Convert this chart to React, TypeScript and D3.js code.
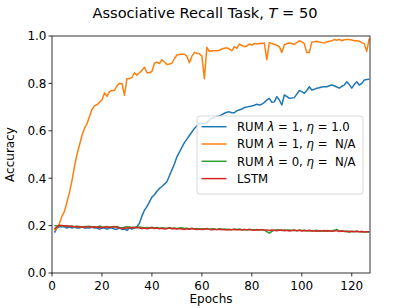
import React from 'react';
import * as d3 from 'd3';

// accuracy per epoch, epochs 1..127
const rumEta1: number[] = [
  0.17, 0.19, 0.195, 0.195, 0.195, 0.19, 0.195, 0.19, 0.195, 0.19,
  0.19, 0.195, 0.19, 0.19, 0.19, 0.195, 0.19, 0.19, 0.185, 0.19,
  0.19, 0.185, 0.19, 0.19, 0.185, 0.185, 0.19, 0.185, 0.185, 0.18,
  0.19, 0.185, 0.19, 0.195, 0.21, 0.24, 0.265, 0.28, 0.30, 0.32,
  0.33, 0.345, 0.357, 0.365, 0.375, 0.385, 0.41, 0.435, 0.46, 0.49,
  0.51, 0.53, 0.55, 0.565, 0.58, 0.595, 0.61, 0.62, 0.63, 0.632,
  0.63, 0.634, 0.645, 0.653, 0.655, 0.66, 0.662, 0.668, 0.674, 0.678,
  0.68, 0.676, 0.676, 0.685, 0.688, 0.692, 0.698, 0.70, 0.703, 0.705,
  0.708, 0.712, 0.709, 0.712, 0.72, 0.73, 0.737, 0.72, 0.722, 0.744,
  0.73, 0.709, 0.751, 0.745, 0.737, 0.738, 0.74, 0.755, 0.77, 0.765,
  0.758, 0.77, 0.786, 0.772, 0.775, 0.78, 0.782, 0.785, 0.786, 0.786,
  0.79, 0.793, 0.79, 0.785, 0.78, 0.788, 0.793, 0.807, 0.795, 0.78,
  0.795, 0.807, 0.793, 0.80, 0.814, 0.816, 0.817,
];

const rumNoEta1: number[] = [
  0.18, 0.19, 0.21, 0.24, 0.26, 0.30, 0.34, 0.39, 0.45, 0.50,
  0.54, 0.58, 0.61, 0.63, 0.66, 0.69, 0.705, 0.71, 0.72, 0.73,
  0.76, 0.745, 0.765, 0.77, 0.77, 0.79, 0.80, 0.80, 0.75, 0.82,
  0.82, 0.825, 0.845, 0.835, 0.845, 0.855, 0.868, 0.845, 0.845, 0.85,
  0.885, 0.89, 0.884, 0.90, 0.89, 0.88, 0.882, 0.885, 0.905, 0.92,
  0.922, 0.923, 0.923, 0.915, 0.887, 0.915, 0.93, 0.927, 0.925, 0.915,
  0.82, 0.952, 0.935, 0.938, 0.938, 0.938, 0.94, 0.945, 0.948, 0.95,
  0.945, 0.938, 0.955, 0.948, 0.966, 0.96, 0.955, 0.958, 0.966, 0.962,
  0.968, 0.966, 0.968, 0.968, 0.97, 0.90, 0.972, 0.968, 0.965, 0.96,
  0.955, 0.93, 0.962, 0.968, 0.97, 0.968, 0.965, 0.972, 0.98, 0.975,
  0.968, 0.93, 0.93, 0.975, 0.976, 0.978, 0.975, 0.973, 0.97, 0.975,
  0.978, 0.98, 0.985, 0.982, 0.986, 0.98, 0.984, 0.985, 0.985, 0.983,
  0.98, 0.98, 0.978, 0.972, 0.968, 0.935, 0.99,
];

const rumLambda0: number[] = [
  0.200, 0.198, 0.200, 0.197, 0.199, 0.196, 0.198, 0.197, 0.195, 0.197,
  0.196, 0.194, 0.196, 0.195, 0.197, 0.194, 0.195, 0.193, 0.198, 0.195,
  0.194, 0.196, 0.193, 0.195, 0.194, 0.196, 0.192, 0.190, 0.193, 0.195,
  0.194, 0.192, 0.193, 0.191, 0.194, 0.192, 0.190, 0.192, 0.191, 0.193,
  0.190, 0.192, 0.189, 0.191, 0.190, 0.188, 0.191, 0.189, 0.190, 0.188,
  0.190, 0.191, 0.188, 0.189, 0.187, 0.189, 0.186, 0.188, 0.185, 0.187,
  0.186, 0.188, 0.185, 0.187, 0.186, 0.184, 0.187, 0.185, 0.186, 0.184,
  0.185, 0.183, 0.185, 0.184, 0.186, 0.183, 0.184, 0.182, 0.185, 0.183,
  0.182, 0.184, 0.182, 0.183, 0.181, 0.175, 0.168, 0.176, 0.180, 0.182,
  0.181, 0.179, 0.181, 0.180, 0.182, 0.179, 0.180, 0.178, 0.181, 0.179,
  0.180, 0.178, 0.177, 0.179, 0.178, 0.180, 0.177, 0.178, 0.176, 0.179,
  0.177, 0.178, 0.180, 0.184, 0.176, 0.178, 0.175, 0.177, 0.172, 0.176,
  0.175, 0.176, 0.174, 0.175, 0.173, 0.174, 0.173,
];

const lstm: number[] = [
  0.185, 0.195, 0.202, 0.200, 0.198, 0.199, 0.196, 0.197, 0.195, 0.196,
  0.194, 0.195, 0.193, 0.196, 0.194, 0.192, 0.195, 0.193, 0.194, 0.191,
  0.193, 0.195, 0.192, 0.194, 0.196, 0.193, 0.190, 0.188, 0.189, 0.191,
  0.190, 0.192, 0.191, 0.193, 0.190, 0.188, 0.190, 0.187, 0.189, 0.191,
  0.188, 0.190, 0.187, 0.189, 0.186, 0.188, 0.190, 0.187, 0.188, 0.186,
  0.188, 0.186, 0.184, 0.187, 0.185, 0.188, 0.186, 0.184, 0.186, 0.183,
  0.185, 0.187, 0.184, 0.182, 0.185, 0.183, 0.185, 0.184, 0.182, 0.184,
  0.182, 0.183, 0.185, 0.182, 0.183, 0.181, 0.184, 0.182, 0.183, 0.181,
  0.180, 0.182, 0.181, 0.183, 0.180, 0.182, 0.179, 0.181, 0.180, 0.178,
  0.180, 0.181, 0.178, 0.180, 0.177, 0.179, 0.181, 0.178, 0.180, 0.177,
  0.179, 0.178, 0.180, 0.177, 0.178, 0.176, 0.178, 0.177, 0.179, 0.176,
  0.178, 0.176, 0.177, 0.179, 0.175, 0.177, 0.176, 0.174, 0.176, 0.175,
  0.174, 0.176, 0.174, 0.175, 0.173, 0.174, 0.174,
];

const xTicks = [0, 20, 40, 60, 80, 100, 120];
const yTicks = [0, 0.2, 0.4, 0.6, 0.8, 1.0];

const series = [
  { key: 'eta1', values: rumEta1, color: '#1f77b4', lam: '1', eta: '1.0' },
  { key: 'noeta1', values: rumNoEta1, color: '#ff7f0e', lam: '1', eta: 'N/A' },
  { key: 'lam0', values: rumLambda0, color: '#2ca02c', lam: '0', eta: 'N/A' },
  { key: 'lstm', values: lstm, color: '#d62728', lam: null, eta: null },
];

const FONT = 'DejaVu Sans, sans-serif';

export default function App() {
  const W = 411, H = 308;
  const margin = { top: 36, right: 41, bottom: 35, left: 52 };
  const iw = W - margin.left - margin.right;
  const ih = H - margin.top - margin.bottom;

  const x = d3.scaleLinear().domain([0, 127.3]).range([0, iw]);
  const y = d3.scaleLinear().domain([0, 1]).range([ih, 0]);

  const line = d3.line<number>()
    .x((_, i) => x(i + 1))
    .y(d => y(d));

  const lx = 145, ly = 80;

  return (
    <svg width={W} height={H} style={{ position: 'absolute', left: 0, top: 0 }} fontFamily={FONT}>
      <rect width={W} height={H} fill="#fff" />
      <text x={205} y={18} textAnchor="middle" fontSize={14.6} fill="#000">
        Associative Recall Task, <tspan fontStyle="italic">T</tspan> = 50
      </text>
      <g transform={`translate(${margin.left},${margin.top})`}>
        {series.map(s => (
          <path key={s.key} d={line(s.values) || ''} fill="none" stroke={s.color} strokeWidth={1.5} strokeLinejoin="round" />
        ))}
        <rect x={0} y={0} width={iw} height={ih} fill="none" stroke="#000" strokeWidth={0.8} />
        {yTicks.map(t => (
          <g key={t} transform={`translate(0,${y(t)})`}>
            <line x1={-3.5} x2={0} stroke="#000" strokeWidth={0.8} />
            <text x={-5.5} dy="0.36em" textAnchor="end" fontSize={12} fill="#000">{t.toFixed(1)}</text>
          </g>
        ))}
        {xTicks.map(t => (
          <g key={t} transform={`translate(${x(t)},${ih})`}>
            <line y1={0} y2={3.5} stroke="#000" strokeWidth={0.8} />
            <text y={17} textAnchor="middle" fontSize={12} fill="#000">{t}</text>
          </g>
        ))}
        <text x={iw / 2} y={ih + 30} textAnchor="middle" fontSize={12} fill="#000">Epochs</text>
        <text transform={`translate(${-38},${ih / 2}) rotate(-90)`} textAnchor="middle" fontSize={12} fill="#000">Accuracy</text>
        <g transform={`translate(${lx},${ly})`}>
          <rect x={0} y={0} width={166} height={78} rx={2.5} fill="#fff" fillOpacity={0.8} stroke="#ccc" strokeWidth={0.8} />
          {series.map((s, i) => (
            <g key={s.key} transform={`translate(0,${10.7 + i * 17.3})`}>
              <line x1={4.5} x2={29.5} stroke={s.color} strokeWidth={1.5} />
              <text x={40} dy="0.36em" fontSize={11.7} fill="#000">
                {s.lam === null ? 'LSTM' : (
                  <>
                    RUM <tspan fontStyle="italic">λ</tspan> = {s.lam}, <tspan fontStyle="italic">η</tspan> ={s.eta === 'N/A' ? '\u00a0\u00a0N/A' : ' ' + s.eta}
                  </>
                )}
              </text>
            </g>
          ))}
        </g>
      </g>
    </svg>
  );
}
